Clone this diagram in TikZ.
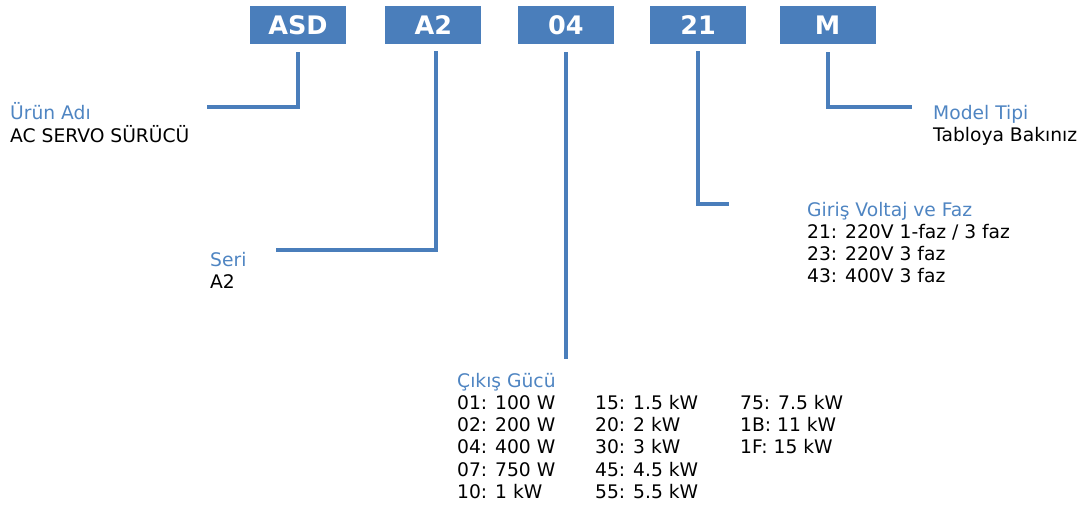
\documentclass[tikz,border=0pt]{standalone}
\usepackage{fontspec}
\setmainfont{DejaVu Sans}
\usetikzlibrary{positioning}
\definecolor{boxc}{RGB}{74,126,187}
\definecolor{ttlc}{RGB}{79,133,194}

\begin{document}
\begin{tikzpicture}[x=1pt, y=-1pt, node distance=36pt, code/.style={rectangle, fill=boxc, text=white, minimum width=96pt, minimum height=38pt, inner sep=0pt, font=\fontsize{25.5}{28}\selectfont\bfseries}, lead/.style={draw=boxc, line width=4pt}, info/.style={anchor=base west, inner sep=0pt, font=\fontsize{18.7}{22.3}\selectfont}]

    \useasboundingbox (0,0) rectangle (1080,509);

    \node[code] (asd) at (298,25) {ASD};
    \node[code, right=39pt of asd] (ser) {A2};
    \node[code, right=of ser] (pow) {04};
    \node[code, right=of pow] (volt) {21};
    \node[code, right=33pt of volt] (mdl) {M};

    \coordinate (asdend) at (207,107);
    \coordinate (serend) at (276,250);
    \coordinate (powend) at (565,359);
    \coordinate (voltend) at (729,204);
    \coordinate (mdlend) at (912,107);

    \node[info] (urun) at (10,119) {\begin{tabular}[t]{@{}l@{}}\color{ttlc}Ürün Adı\\AC SERVO SÜRÜCÜ\end{tabular}};
    \node[info] (seri) at (210,266) {\begin{tabular}[t]{@{}l@{}}\color{ttlc}Seri\\A2\end{tabular}};
    \node[info] (guc) at (457,387) {\begin{tabular}[t]{@{}p{138pt}@{}p{145pt}@{}l@{}}
      \multicolumn{3}{@{}l@{}}{\color{ttlc}Çıkış Gücü}\\
      01: 100 W & 15: 1.5 kW & 75: 7.5 kW\\
      02: 200 W & 20: 2 kW & 1B: 11 kW\\
      04: 400 W & 30: 3 kW & 1F: 15 kW\\
      07: 750 W & 45: 4.5 kW & \\
      10: 1 kW & 55: 5.5 kW & \\
    \end{tabular}};
    \node[info] (giris) at (807,216) {\begin{tabular}[t]{@{}l@{}}\color{ttlc}Giriş Voltaj ve Faz\\21: 220V 1-faz / 3 faz\\23: 220V 3 faz\\43: 400V 3 faz\end{tabular}};
    \node[info] (model) at (933,119) {\begin{tabular}[t]{@{}l@{}}\color{ttlc}Model Tipi\\Tabloya Bakınız\end{tabular}};

    \draw[lead] ([yshift=-8pt]asd.south) |- (asdend);
    \draw[lead] ([xshift=3pt, yshift=-7pt]ser.south) |- (serend);
    \draw[lead] ([yshift=-8pt]pow.south) -- (pow.south |- powend);
    \draw[lead] ([yshift=-7pt]volt.south) |- (voltend);
    \draw[lead] ([yshift=-8pt]mdl.south) |- (mdlend);

  \end{tikzpicture}
\end{document}
